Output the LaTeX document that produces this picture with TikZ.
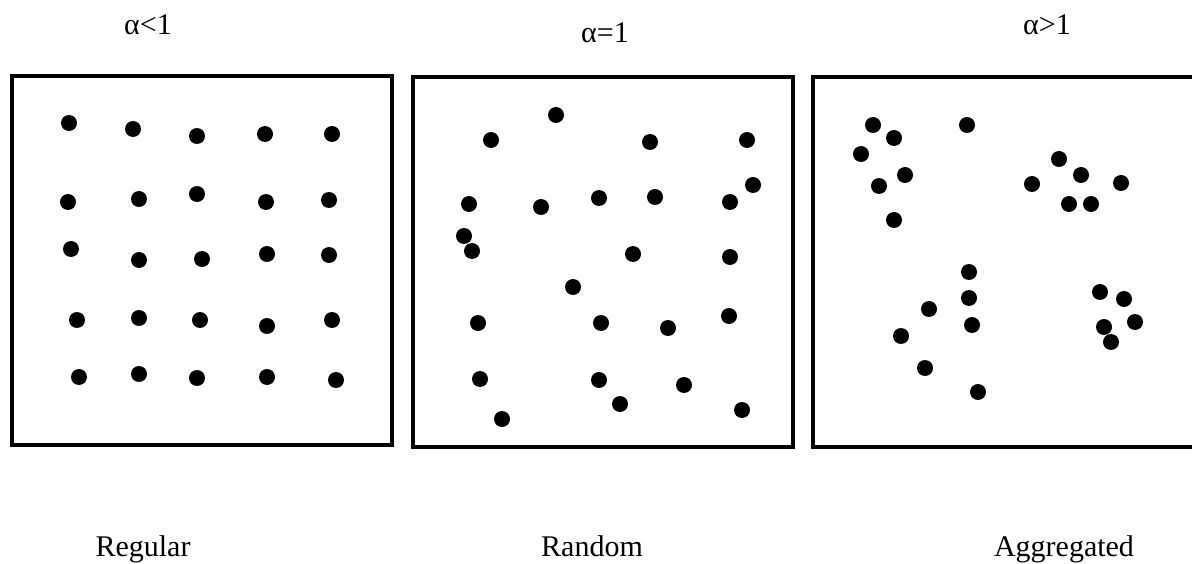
\documentclass[tikz,border=0pt]{standalone}
\usepackage{fontspec}
\setmainfont{Liberation Serif}
\usetikzlibrary{positioning}

\begin{document}
\begin{tikzpicture}[
			x=1pt, y=-1pt,
			every node/.style={font=\fontsize{30}{36}\selectfont, inner sep=0pt, anchor=base},
			panel/.style={draw=black, line width=4pt},
			dot/.style={fill=black}
			]
			\useasboundingbox (0,0) rectangle (1192,564);
			\clip (0,0) rectangle (1192,564);
			
			% Regular
			\draw[panel] (12,76) rectangle (392,445);
			\foreach \x/\y in {69/123, 133/129, 197/136, 265/134, 332/134,
				68/202, 139/199, 197/194, 266/202, 329/200,
				71/249, 139/260, 202/259, 267/254, 329/255,
				77/320, 139/318, 200/320, 267/326, 332/320,
				79/377, 139/374, 197/378, 267/377, 336/380}
				\fill[dot] (\x,\y) circle (8pt);
			
			% Random
			\draw[panel] (413,77) rectangle (793,447);
			\foreach \x/\y in {556/115, 491/140, 650/142, 747/140, 753/185,
				469/204, 541/207, 599/198, 655/197, 730/202,
				464/236, 472/251, 633/254, 730/257, 573/287,
				478/323, 601/323, 668/328, 729/316,
				480/379, 599/380, 684/385, 620/404, 742/410, 502/419}
				\fill[dot] (\x,\y) circle (8pt);
			
			% Aggregated
			\draw[panel] (813,77) rectangle (1220,447);
			\foreach \x/\y in {873/125, 894/138, 861/154, 905/175, 879/186, 894/220,
				967/125,
				1059/159, 1081/175, 1032/184, 1121/183, 1069/204, 1091/204,
				969/272, 969/298, 972/325, 929/309, 901/336, 925/368, 978/392,
				1100/292, 1124/299, 1135/322, 1104/327, 1111/342}
				\fill[dot] (\x,\y) circle (8pt);
			
			% Labels
			\node (alphaless) at (148,35) {α<1};
			\node (alphaeq) at (605,43) {α=1};
			\node (alphamore) at (1047,35) {α>1};
			\node (regular) at (143,556) {Regular};
			\node (random) at (592,556) {Random};
			\node (aggregated) at (1064,556) {Aggregated};
			
		\end{tikzpicture}
\end{document}
